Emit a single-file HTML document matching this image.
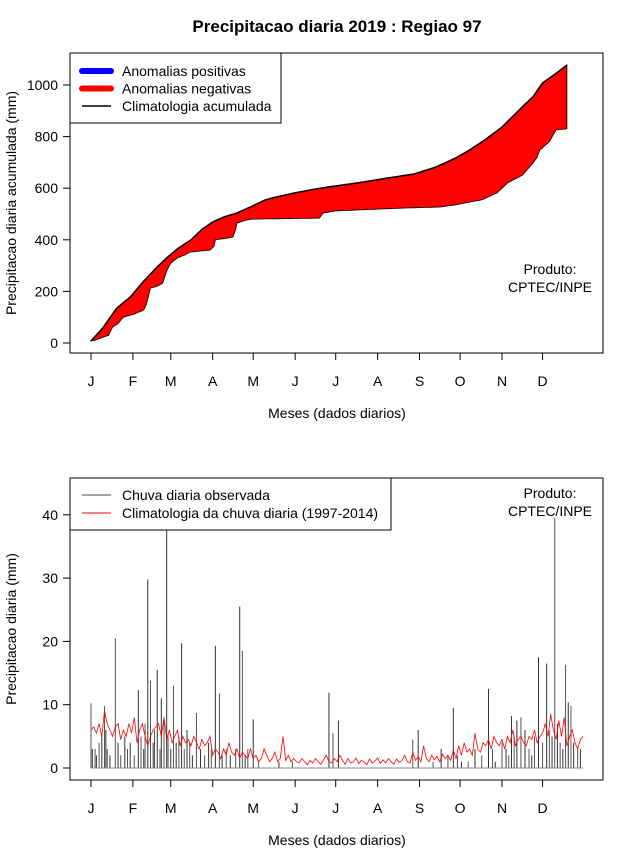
<!DOCTYPE html>
<html><head><meta charset="utf-8"><style>
body{margin:0;background:#fff;}
svg{display:block;font-family:"Liberation Sans",sans-serif;}
</style></head><body>
<svg id="chart" width="640" height="850" viewBox="0 0 640 850">
<text x="337" y="32" text-anchor="middle" font-size="17" font-weight="bold">Precipitacao diaria 2019 : Regiao 97</text>
<g id="top"></g>
<g id="bot"></g>
</svg>
<script>
// ---- top chart data (cumulative, mm) ----
const climDays = [1,10,20,30,40,50,57,65,75,83,91,100,109,120,130,138,150,165,177,200,221,240,256,270,281,293,305,320,328,335,345,353];
const climCum  = [8,60,135,178,240,295,330,365,400,440,469,490,504,530,555,566,580,595,605,622,640,655,682,715,748,790,837,915,955,1008,1045,1077];
const obsDays  = [1,5,10,14,17,21,25,33,40,42,45,50,54,57,60,65,70,74,89,92,93,100,106,108,109,115,119,170,172,173,182,232,259,270,281,290,301,305,309,320,328,331,333,340,345,353];
const obsCum   = [8,12,23,30,62,75,100,112,128,150,213,220,232,280,310,330,340,352,360,375,400,405,411,440,465,475,480,484,500,504,512,523,527,535,546,555,581,600,620,650,698,720,748,780,826,830];
const topTicks = [0,200,400,600,800,1000];
const monthLabels = ["J","F","M","A","M","J","J","A","S","O","N","D"];
const monthStart = [1,32,60,91,121,152,182,213,244,274,305,335];
// ---- bottom chart data (mm/day) ----
const rainDays = [1,2,4,5,7,9,11,12,13,15,19,21,23,26,28,30,33,36,38,40,41,43,45,47,48,50,52,53,55,57,58,60,62,64,66,68,70,72,74,76,79,82,85,88,90,93,96,98,101,104,108,111,113,115,117,121,125,140,150,177,180,184,239,243,254,260,265,269,272,275,280,285,290,295,298,300,305,308,310,312,314,316,319,322,325,327,329,332,335,338,340,342,344,346,348,350,352,354,356,358,361,363];
const rainVals = [10.2,3,3,2,4,5,9.8,6,3,2,20.5,4,2,5,3,4,2,12.3,5,3,7,29.8,13.8,4,6,15.5,3,11,8,46,5,3,13,4,5,19.7,3,6,4,2,8.7,3,2,4,3,19.3,11.8,2,3,2,3,25.5,18.5,2,3,7.7,1,1,1,11.9,5.5,7.5,4.5,6,1,3,2,9.5,2,1,1,3,2,12.5,3,1,4,3,2,8.2,5,7.5,8,6,3,2,5,17.5,4,16.5,6,5,39.5,7,4,3,16.3,10.4,9.8,4,3,3];
const climDaily = [6,6.5,5.5,7,5,9,7,6,5,6.5,7,4.5,6,5,7,5.5,
8,4,6,7,5,3.5,5,6,6.5,7,5,8,4.5,6,
4,5,6,3.5,5,4,4.5,3.5,5,4,3,4.5,3.5,4,5,
2,3,2.5,1.5,3,2,4,2.5,2,3,1.5,2.5,2,1.5,3,
1.5,2,1,1.5,3,2,1,1.5,2.5,1,1.5,5,1.2,2,1,1.5,
1,0.8,1.5,1,0.5,1.2,0.8,1.5,1,0.6,1.3,2,1,0.8,1.5,
1,2,1.2,0.6,1.5,0.8,1,1.6,0.7,1.2,1,0.5,1.4,0.8,1.1,
1.6,0.7,1.3,0.8,1.5,1,0.6,1.4,0.9,1.2,2,1,0.8,2.5,1.2,1.8,
1,3.5,1.5,1,2,1.3,1.8,1,2.2,1.5,2,1.2,2.8,1.5,3.5,
2,4,2.5,3,2,5.5,3,2.5,4,3.5,4.5,3,5,4,3.5,4.5,
3,5,4,6,3.5,4.5,5,4,3.5,5,4.5,6,4,5,
5.5,7,5,8.5,6,4.5,7.5,5,8,3.5,5,6,4,3,4.5,5];
const botTicks = [0,10,20,30,40];

const NS="http://www.w3.org/2000/svg";
function mk(parent,tag,attrs,text){const e=document.createElementNS(NS,tag);for(const k in attrs)e.setAttribute(k,attrs[k]);if(text!==undefined)e.textContent=text;parent.appendChild(e);return e;}
const xDay = d => 91 + (d-1)*1.352;
const yTop = v => 343 - v*0.258;
const yBot = v => 768 - v*6.33;
function interp(days,vals,d){for(let i=0;i<days.length-1;i++){if(d>=days[i]&&d<=days[i+1]){const t=(d-days[i])/(days[i+1]-days[i]);return vals[i]+t*(vals[i+1]-vals[i]);}}return vals[vals.length-1];}

function axes(g,top,bottom,ticks,yf,xlabY,ytitle,ytitleY){
  let e=mk(g,'rect',{x:70,y:top,width:533,height:bottom-top,fill:'none',stroke:'#000','stroke-width':1});
  
  ticks.forEach(t=>{const y=yf(t);
    e=mk(g,'line',{x1:63,x2:70,y1:y,y2:y,stroke:'#000'});
    e=mk(g,'text',{x:58,y:y+5,'text-anchor':'end','font-size':14},String(t));});
  monthStart.forEach((d,i)=>{const x=xDay(d);
    e=mk(g,'line',{x1:x,x2:x,y1:bottom,y2:bottom+7,stroke:'#000'});
    e=mk(g,'text',{x:x,y:bottom+33,'text-anchor':'middle','font-size':14},monthLabels[i]);});
  e=mk(g,'line',{x1:xDay(1),x2:xDay(335),y1:bottom,y2:bottom,stroke:'#000'});
  e=mk(g,'text',{x:337,y:xlabY,'text-anchor':'middle','font-size':14},'Meses (dados diarios)');
  e=mk(g,'text',{x:16,y:ytitleY,'text-anchor':'middle','font-size':14,transform:`rotate(-90 16 ${ytitleY})`},ytitle);
}

// ---- top chart ----
const gt=document.getElementById('top');
axes(gt,53,353,topTicks,yTop,418,'Precipitacao diaria acumulada (mm)',203);
{
  const start=climDays[0], end=climDays[climDays.length-1];
  let up=[],lo=[];
  for(let d=start;d<=end;d++){up.push([xDay(d),yTop(interp(climDays,climCum,d))]);lo.push([xDay(d),yTop(interp(obsDays,obsCum,d))]);}
  const pts=up.concat(lo.reverse()).map(p=>p[0].toFixed(1)+','+p[1].toFixed(1)).join(' ');
  let e=mk(gt,'polygon',{points:pts,fill:'#ff0000',stroke:'#000','stroke-width':0.8});
  
  e=mk(gt,'polyline',{points:up.map(p=>p[0].toFixed(1)+','+p[1].toFixed(1)).join(' '),fill:'none',stroke:'#000','stroke-width':1.5});
  
}
{
  let e=mk(gt,'rect',{x:70,y:53,width:211,height:70,fill:'#fff',stroke:'#000'});
  const items=[['Anomalias positivas','#0000ff',6],['Anomalias negativas','#ff0000',6],['Climatologia acumulada','#000',1.5]];
  items.forEach((it,i)=>{const y=71+i*17.5;
    e=mk(gt,'line',{x1:82,x2:111,y1:y,y2:y,stroke:it[1],'stroke-width':it[2],'stroke-linecap':it[2]>2?'round':'butt'});
    e=mk(gt,'text',{x:122,y:y+5,'font-size':14},it[0]);});
  e=mk(gt,'text',{x:550,y:274,'text-anchor':'middle','font-size':14},'Produto:');
  e=mk(gt,'text',{x:550,y:292,'text-anchor':'middle','font-size':14},'CPTEC/INPE');
}

// ---- bottom chart ----
const gb=document.getElementById('bot');
axes(gb,478,780,botTicks,yBot,845,'Precipitacao diaria (mm)',629);
rainDays.forEach((d,i)=>{const x=xDay(d);
  const e=mk(gb,'line',{x1:x,x2:x,y1:yBot(0),y2:Math.max(yBot(rainVals[i]),478),stroke:i%2?'#333':'#555','stroke-width':1});
  });
{
  let e=mk(gb,'line',{x1:xDay(1),x2:xDay(365),y1:yBot(0),y2:yBot(0),stroke:'#888','stroke-width':1});
  
  const pts=climDaily.map((v,i)=>xDay(1+2*i).toFixed(1)+','+yBot(v).toFixed(1)).join(' ');
  e=mk(gb,'polyline',{points:pts,fill:'none',stroke:'#ff0000','stroke-width':0.8});
  
  e=mk(gb,'rect',{x:70,y:478,width:321,height:52,fill:'#fff',stroke:'#000'});
  e=mk(gb,'line',{x1:82,x2:111,y1:495,y2:495,stroke:'#444'});
  e=mk(gb,'text',{x:122,y:500,'font-size':14},'Chuva diaria observada');
  e=mk(gb,'line',{x1:82,x2:111,y1:513,y2:513,stroke:'#ff0000'});
  e=mk(gb,'text',{x:122,y:518,'font-size':14},'Climatologia da chuva diaria (1997-2014)');
  e=mk(gb,'text',{x:550,y:498,'text-anchor':'middle','font-size':14},'Produto:');
  e=mk(gb,'text',{x:550,y:516,'text-anchor':'middle','font-size':14},'CPTEC/INPE');
}
</script>
</body></html>
